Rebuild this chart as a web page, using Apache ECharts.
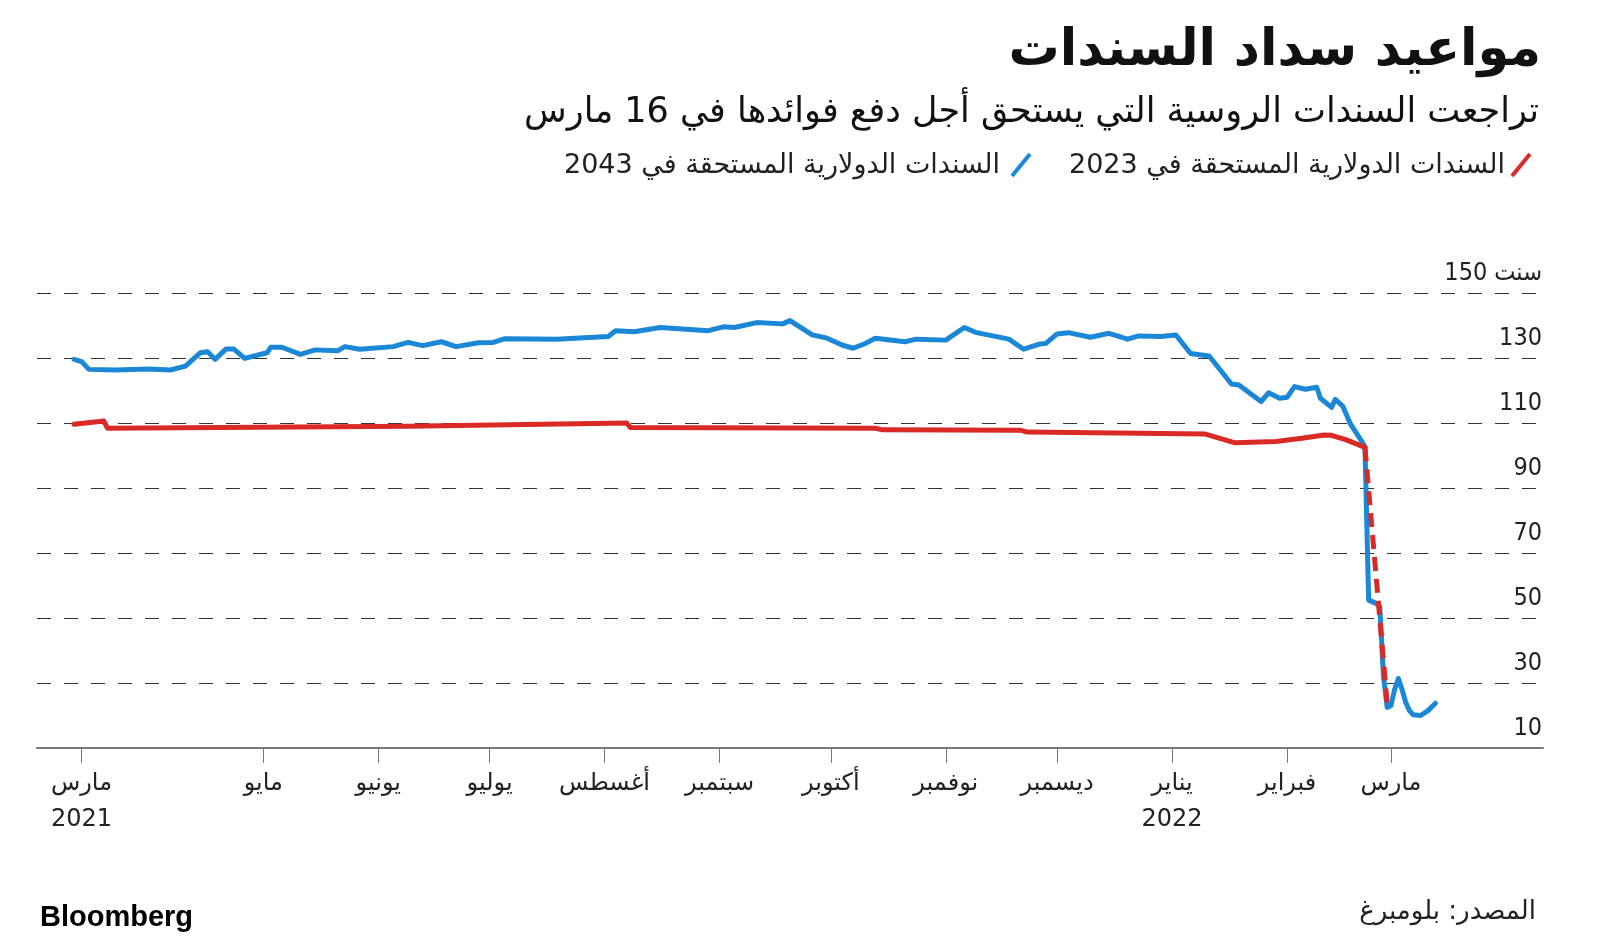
<!DOCTYPE html>
<html><head><meta charset="utf-8">
<script src="https://cdn.jsdelivr.net/npm/echarts@6/dist/echarts.min.js"></script>
<style>html,body{margin:0;padding:0;background:#fff}#c{width:1600px;height:951px}</style>
</head><body><div id="c"></div>
<script>
const AR = "'DejaVu Sans',sans-serif";
const ARC = "'DejaVu Sans Condensed','DejaVu Sans',sans-serif";
const titleText = 'مواعيد سداد السندات';
const subtitleText = 'تراجعت السندات الروسية التي يستحق أجل دفع فوائدها في 16 مارس';
const legendNames = ['السندات الدولارية المستحقة في 2023', 'السندات الدولارية المستحقة في 2043'];
const sourceText = 'المصدر: بلومبرغ';
const brandText = 'Bloomberg';

const axisStart = '2021-03-01', axisEnd = '2022-04-11';
const tickDates = ['2021-03-13','2021-05-01','2021-06-01','2021-07-01','2021-08-01','2021-09-01','2021-10-01','2021-11-01','2021-12-01','2022-01-01','2022-02-01','2022-03-01'];
const tickLabels = ['مارس\n2021','مايو','يونيو','يوليو','أغسطس','سبتمبر','أكتوبر','نوفمبر','ديسمبر','يناير\n2022','فبراير','مارس'];
const yMin = 10, yMax = 150, yStep = 20;
const yUnit = 'سنت';

// 2043 bond (blue)
const dates2043 = ['2021-03-11','2021-03-13','2021-03-15','2021-03-22','2021-03-31','2021-04-06','2021-04-10','2021-04-14','2021-04-16','2021-04-18','2021-04-21','2021-04-23','2021-04-26','2021-05-02','2021-05-03','2021-05-06','2021-05-11','2021-05-15','2021-05-21','2021-05-23','2021-05-27','2021-06-05','2021-06-09','2021-06-13','2021-06-18','2021-06-22','2021-06-28','2021-07-02','2021-07-05','2021-07-19','2021-08-02','2021-08-04','2021-08-09','2021-08-16','2021-08-29','2021-09-02','2021-09-05','2021-09-11','2021-09-18','2021-09-20','2021-09-26','2021-09-30','2021-10-04','2021-10-07','2021-10-10','2021-10-13','2021-10-21','2021-10-24','2021-11-01','2021-11-06','2021-11-09','2021-11-18','2021-11-22','2021-11-26','2021-11-28','2021-12-01','2021-12-04','2021-12-10','2021-12-15','2021-12-20','2021-12-23','2021-12-29','2022-01-02','2022-01-06','2022-01-11','2022-01-17','2022-01-19','2022-01-25','2022-01-27','2022-01-30','2022-02-01','2022-02-03','2022-02-06','2022-02-09','2022-02-10','2022-02-13','2022-02-14','2022-02-16','2022-02-18','2022-02-21','2022-02-22','2022-02-23','2022-02-25','2022-02-26','2022-02-27','2022-02-28','2022-03-01','2022-03-02','2022-03-03','2022-03-04','2022-03-05','2022-03-06','2022-03-07','2022-03-09','2022-03-11','2022-03-13'];
const values2043 = [129.6,128.9,126.5,126.3,126.6,126.3,127.5,131.6,131.9,129.6,132.8,132.8,129.9,131.6,133.3,133.3,131.1,132.5,132.2,133.5,132.7,133.5,134.8,133.8,135.0,133.5,134.7,134.8,135.9,135.8,136.6,138.4,138.1,139.4,138.4,139.6,139.4,140.9,140.5,141.5,137.1,136.1,134.0,133.0,134.3,136.1,135.0,135.8,135.5,139.4,137.9,135.8,132.7,134.2,134.5,137.4,137.8,136.4,137.6,135.8,136.8,136.6,137.1,131.4,130.6,122.0,121.7,116.6,119.3,117.6,117.9,121.2,120.4,121.0,117.6,114.8,117.3,115.2,109.9,104.6,102.7,55.5,54.5,53.5,32.0,22.5,23.0,28.0,31.4,28.0,24.0,21.5,20.2,20.0,21.5,23.8];

// 2023 bond (red), solid part
const dates2023 = ['2021-03-11','2021-03-19','2021-03-20','2021-06-09','2021-08-07','2021-08-08','2021-10-13','2021-10-15','2021-11-21','2021-11-23','2022-01-10','2022-01-18','2022-01-29','2022-02-05','2022-02-11','2022-02-13','2022-02-17','2022-02-22'];
const values2023 = [109.6,110.6,108.4,109.0,110.0,108.6,108.4,107.9,107.8,107.2,106.6,103.9,104.3,105.3,106.3,106.2,104.8,102.5];
// 2023 bond, dashed connection across the crash
const datesGap2023 = ['2022-02-22','2022-02-28'];
const valuesGap2023 = [102.5,23.5];

const DAY = 86400000;
const utc = s => { const p = s.split('-').map(Number); return Date.UTC(p[0], p[1]-1, p[2]); };
const dayNum = s => Math.round((utc(s) - utc(axisStart)) / DAY);
const zip = (d, v) => d.map((x, i) => [dayNum(x), v[i]]);
const tickDays = tickDates.map(dayNum);
const labelMap = {}; tickDays.forEach((t, i) => labelMap[t] = tickLabels[i]);

const chart = echarts.init(document.getElementById('c'), null, {renderer: 'canvas'});
const BLUE = '#1a88d6', RED = '#d92a26';
const GRID = {left: 37, right: 57, top: 293, bottom: 203};
chart.setOption({
  animation: false,
  backgroundColor: '#fff',
  grid: Object.assign({containLabel: false}, GRID),
  xAxis: {
    type: 'value',
    min: 0, max: dayNum(axisEnd),
    axisLine: {show: true, onZero: false, lineStyle: {color: '#777', width: 2}},
    axisTick: {show: true, customValues: tickDays, length: 15, lineStyle: {color: '#777', width: 1}},
    axisLabel: {customValues: tickDays, formatter: v => labelMap[v] || '', fontFamily: AR, fontSize: 24, color: '#222', margin: 18, lineHeight: 36, hideOverlap: false, showMinLabel: true, showMaxLabel: true},
    splitLine: {show: false}
  },
  yAxis: {
    type: 'value', position: 'right', min: yMin, max: yMax, interval: yStep,
    axisLine: {show: false}, axisTick: {show: false},
    axisLabel: {inside: true, margin: 1, verticalAlign: 'bottom', padding: [0, 0, 7, 0], fontFamily: ARC, fontSize: 25, color: '#222',
      formatter: v => v === yMax ? '' : String(v)},
    splitLine: {show: true, lineStyle: {type: [14, 13], width: 1.2, color: ['rgba(0,0,0,0)','#333','#333','#333','#333','#333','#333','#333']}}
  },
  series: [
    {type: 'line', name: legendNames[1], data: zip(dates2043, values2043), showSymbol: false, symbol: 'none', lineStyle: {color: BLUE, width: 5, join: 'round', cap: 'round'}, z: 3},
    {type: 'line', name: legendNames[0], data: zip(dates2023, values2023), showSymbol: false, symbol: 'none', lineStyle: {color: RED, width: 5, join: 'round', cap: 'round'}, z: 4},
    {type: 'line', name: legendNames[0] + ' ', data: zip(datesGap2023, valuesGap2023), showSymbol: false, symbol: 'none', lineStyle: {color: RED, width: 5, type: [14, 8]}, z: 5}
  ],
  graphic: [
    {type: 'text', x: 1541, y: 52, style: {text: titleText, align: 'right', verticalAlign: 'middle', font: "bold 51px " + AR, fill: '#111'}},
    {type: 'text', x: 1539, y: 113, style: {text: subtitleText, align: 'right', verticalAlign: 'middle', font: "35px " + AR, fill: '#111'}},
    {type: 'line', shape: {x1: 1512, y1: 176, x2: 1530, y2: 154}, style: {stroke: RED, lineWidth: 4}},
    {type: 'text', x: 1505, y: 166, style: {text: legendNames[0], align: 'right', verticalAlign: 'middle', font: "27px " + AR, fill: '#222'}},
    {type: 'line', shape: {x1: 1012, y1: 176, x2: 1030, y2: 154}, style: {stroke: BLUE, lineWidth: 4}},
    {type: 'text', x: 1000, y: 166, style: {text: legendNames[1], align: 'right', verticalAlign: 'middle', font: "27px " + AR, fill: '#222'}},
    {type: 'text', x: 40, y: 918, style: {text: brandText, align: 'left', verticalAlign: 'middle', font: "bold 29px 'Liberation Sans Narrow','Liberation Sans',Arial,sans-serif", fill: '#000'}},
    {type: 'text', x: 1536, y: 912, style: {text: sourceText, align: 'right', verticalAlign: 'middle', font: "26px " + AR, fill: '#222'}}
  ]
});
// top tick label: number on the left, unit word on the right, drawn as two pieces on the axis scale
const topFont = "25px " + ARC;
const mctx = document.createElement('canvas').getContext('2d');
mctx.font = topFont;
const unitW = mctx.measureText(yUnit).width;
const yTopPx = chart.convertToPixel({yAxisIndex: 0}, yMax);
const rightEdge = 1600 - GRID.right - 1;
chart.setOption({graphic: [
  {type: 'text', id: 'yunit', x: rightEdge, y: yTopPx - 7, style: {text: yUnit, align: 'right', verticalAlign: 'bottom', font: topFont, fill: '#222'}},
  {type: 'text', id: 'ytopnum', x: rightEdge - unitW - 7, y: yTopPx - 7, style: {text: String(yMax), align: 'right', verticalAlign: 'bottom', font: topFont, fill: '#222'}}
]});
</script></body></html>
